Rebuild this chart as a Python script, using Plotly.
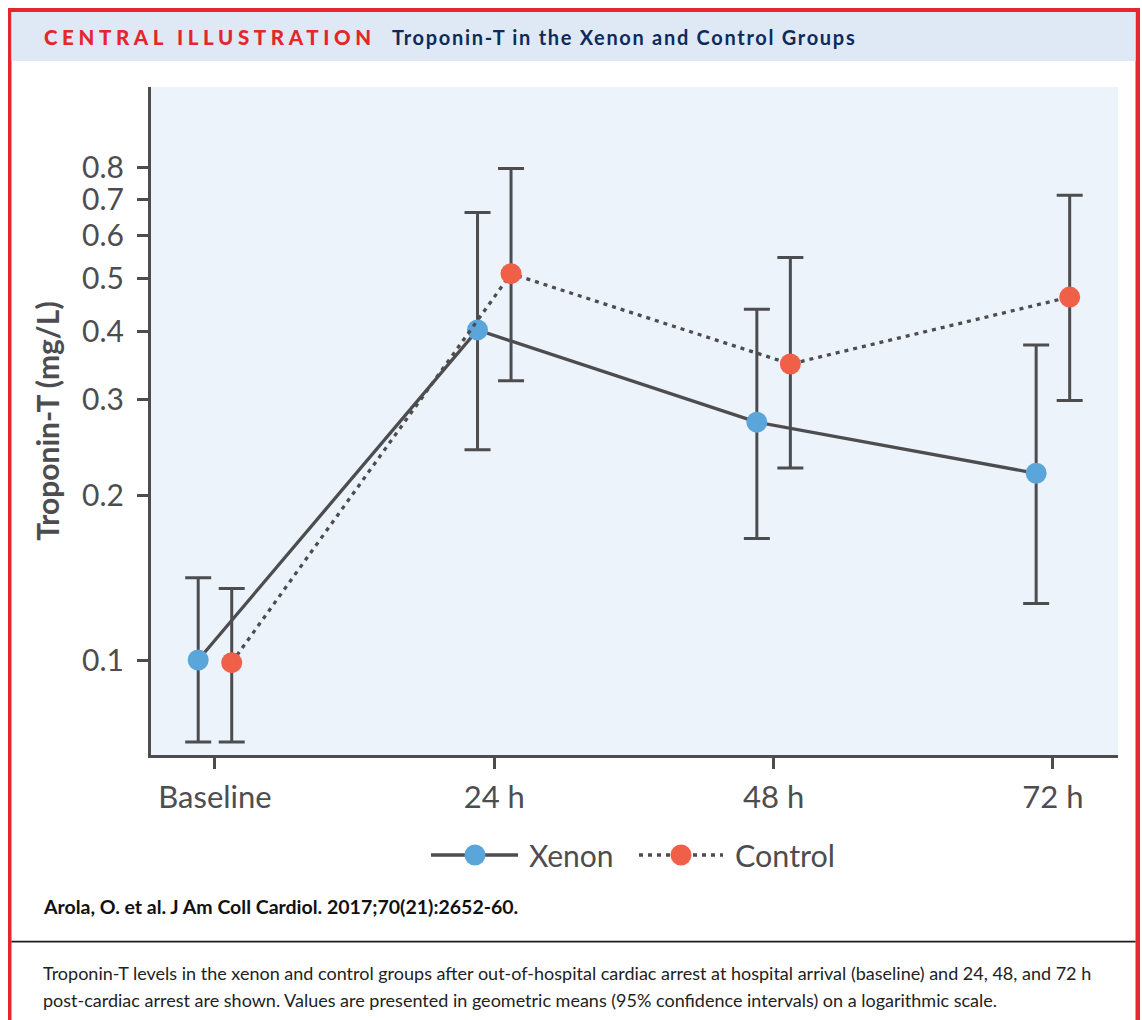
import plotly.graph_objects as go

# ---------------- data ----------------
categories = ["Baseline", "24 h", "48 h", "72 h"]

xenon_mean = [0.100, 0.403, 0.273, 0.220]
xenon_lo = [0.0707, 0.243, 0.167, 0.127]
xenon_hi = [0.1416, 0.662, 0.440, 0.378]

control_mean = [0.0989, 0.511, 0.349, 0.463]
control_lo = [0.0707, 0.325, 0.225, 0.299]
control_hi = [0.1353, 0.797, 0.547, 0.712]

y_tick_vals = [0.1, 0.2, 0.3, 0.4, 0.5, 0.6, 0.7, 0.8]
y_tick_text = ["0.1", "0.2", "0.3", "0.4", "0.5", "0.6", "0.7", "0.8"]

# ---------------- styling ----------------
W, H = 1142, 1020
ML, MR, MT, MB = 151, 24, 87, 265
PW, PH = W - ML - MR, H - MT - MB

GRAY = "#4d4d4f"
BLUE = "#5aa6db"
RED = "#f05f48"
FRAME_RED = "#e4262d"
NAVY = "#0e2a5c"
FONT = "Lato"


def px(x):
    return (x - ML) / PW


def py(y):
    return (H - MB - y) / PH


dodge = 0.06
x_idx = list(range(len(categories)))
x_xenon = [i - dodge for i in x_idx]
x_control = [i + dodge for i in x_idx]

fig = go.Figure()

fig.add_trace(go.Scatter(
    x=x_xenon, y=xenon_mean, name="Xenon", mode="lines+markers",
    line=dict(color=GRAY, width=3.3),
    marker=dict(color=BLUE, size=21, line=dict(width=0)),
    error_y=dict(type="data", symmetric=False,
                 array=[h - m for h, m in zip(xenon_hi, xenon_mean)],
                 arrayminus=[m - l for m, l in zip(xenon_mean, xenon_lo)],
                 color=GRAY, thickness=3, width=13),
    showlegend=False,
))

fig.add_trace(go.Scatter(
    x=x_control, y=control_mean, name="Control", mode="lines+markers",
    line=dict(color=GRAY, width=3.3, dash="4px,5px"),
    marker=dict(color=RED, size=21, line=dict(width=0)),
    error_y=dict(type="data", symmetric=False,
                 array=[h - m for h, m in zip(control_hi, control_mean)],
                 arrayminus=[m - l for m, l in zip(control_mean, control_lo)],
                 color=GRAY, thickness=3, width=13),
    showlegend=False,
))

shapes = []
# red frame
shapes.append(dict(type="rect", xref="paper", yref="paper", x0=px(8), x1=px(1140), y0=py(8), y1=py(12),
                   fillcolor=FRAME_RED, line=dict(width=0), layer="below"))
shapes.append(dict(type="rect", xref="paper", yref="paper", x0=px(8), x1=px(11.5), y0=py(8), y1=py(1022),
                   fillcolor=FRAME_RED, line=dict(width=0), layer="below"))
shapes.append(dict(type="rect", xref="paper", yref="paper", x0=px(1135.5), x1=px(1140), y0=py(8), y1=py(1022),
                   fillcolor=FRAME_RED, line=dict(width=0), layer="below"))
# header band
shapes.append(dict(type="rect", xref="paper", yref="paper", x0=px(11.5), x1=px(1135.5), y0=py(12), y1=py(61),
                   fillcolor="#dee9f5", line=dict(width=0), layer="below"))
# footer rule
shapes.append(dict(type="line", xref="paper", yref="paper", x0=px(11.5), x1=px(1135.5), y0=py(941.7), y1=py(941.7),
                   line=dict(color="#1e1e1e", width=1.8), layer="below"))

# custom legend
LEG_Y = 855
shapes.append(dict(type="line", xref="paper", yref="paper", x0=px(431), x1=px(518), y0=py(LEG_Y), y1=py(LEG_Y),
                   line=dict(color=GRAY, width=3.3), layer="above"))
shapes.append(dict(type="circle", xref="paper", yref="paper", xsizemode="pixel", ysizemode="pixel",
                   xanchor=px(475), yanchor=py(LEG_Y), x0=-10.5, x1=10.5, y0=-10.5, y1=10.5,
                   fillcolor=BLUE, line=dict(width=0), layer="above"))
shapes.append(dict(type="line", xref="paper", yref="paper", x0=px(639), x1=px(723), y0=py(LEG_Y), y1=py(LEG_Y),
                   line=dict(color=GRAY, width=3.3, dash="4px,5px"), layer="above"))
shapes.append(dict(type="circle", xref="paper", yref="paper", xsizemode="pixel", ysizemode="pixel",
                   xanchor=px(681), yanchor=py(LEG_Y), x0=-10.5, x1=10.5, y0=-10.5, y1=10.5,
                   fillcolor=RED, line=dict(width=0), layer="above"))

annotations = [
    dict(text='<span style="letter-spacing:4.6px">CENTRAL ILLUSTRATION</span>', x=px(42), y=py(37),
         xref="paper", yref="paper", xanchor="left", yanchor="middle", showarrow=False,
         font=dict(family=FONT, size=20.5, color=FRAME_RED, weight=900)),
    dict(text='<span style="letter-spacing:1.7px">Troponin-T in the Xenon and Control Groups</span>',
         x=px(390), y=py(37),
         xref="paper", yref="paper", xanchor="left", yanchor="middle", showarrow=False,
         font=dict(family=FONT, size=20, color=NAVY, weight=700)),
    dict(text="Xenon", x=px(527), y=py(LEG_Y), xref="paper", yref="paper", xanchor="left", yanchor="middle",
         showarrow=False, font=dict(family=FONT, size=30, color=GRAY)),
    dict(text="Control", x=px(733), y=py(LEG_Y), xref="paper", yref="paper", xanchor="left", yanchor="middle",
         showarrow=False, font=dict(family=FONT, size=30.5, color=GRAY)),
    dict(text="Arola, O. et al. J Am Coll Cardiol. 2017;70(21):2652-60.", x=px(41), y=py(906),
         xref="paper", yref="paper", xanchor="left", yanchor="middle", showarrow=False,
         font=dict(family=FONT, size=19.5, color="#111111", weight=700)),
    dict(text="Troponin-T levels in the xenon and control groups after out-of-hospital cardiac arrest at hospital "
              "arrival (baseline) and 24, 48, and 72 h",
         x=px(41), y=py(973), xref="paper", yref="paper", xanchor="left", yanchor="middle", showarrow=False,
         font=dict(family=FONT, size=18, color="#222222")),
    dict(text="post-cardiac arrest are shown. Values are presented in geometric means (95% confidence intervals) "
              "on a logarithmic scale.",
         x=px(41), y=py(1000), xref="paper", yref="paper", xanchor="left", yanchor="middle", showarrow=False,
         font=dict(family=FONT, size=18, color="#222222")),
]

fig.update_layout(
    width=W, height=H,
    margin=dict(l=ML, r=MR, t=MT, b=MB, pad=0),
    paper_bgcolor="white",
    plot_bgcolor="#ecf3fb",
    font=dict(family=FONT, color=GRAY),
    shapes=shapes,
    annotations=annotations,
    showlegend=False,
    xaxis=dict(
        range=[-0.229, 3.233], tickvals=x_idx, ticktext=categories,
        showgrid=False, zeroline=False, showline=True, linecolor=GRAY, linewidth=3,
        ticks="outside", ticklen=11, tickwidth=3, tickcolor=GRAY,
        tickfont=dict(family=FONT, size=31, color=GRAY), ticklabelstandoff=2,
    ),
    yaxis=dict(
        type="log", range=[-1.1742, 0.0508], tickvals=y_tick_vals, ticktext=y_tick_text,
        showgrid=False, zeroline=False, showline=True, linecolor=GRAY, linewidth=3,
        ticks="outside", ticklen=11, tickwidth=3, tickcolor=GRAY,
        tickfont=dict(family=FONT, size=30, color=GRAY), ticklabelstandoff=7,
        title=dict(text="<b>Troponin-T (mg/L)</b>", font=dict(family=FONT, size=30, color=GRAY), standoff=14),
    ),
)

fig.write_html("out.html", config={"displayModeBar": False},
               post_script="document.body.style.margin='0';document.body.style.overflow='hidden';")
